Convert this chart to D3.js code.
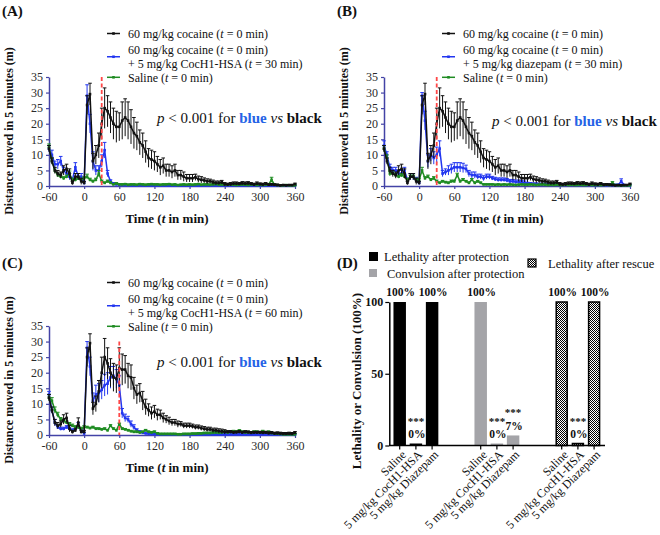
<!DOCTYPE html>
<html lang="en">
<head>
<meta charset="UTF-8">
<title>Cocaine locomotor activity and lethality</title>
<script src="https://d3js.org/d3.v7.min.js"></script>
<style>
  body { margin: 0; background: #fff; }
  svg { display: block; font-family: "Liberation Serif", "Times New Roman", serif; }
  text { white-space: pre; }
</style>
</head>
<body>
<svg id="chart" width="660" height="535"></svg>
<script>
// Time bins (min), 5 min each
const times = [-60,-55,-50,-45,-40,-35,-30,-25,-20,-15,-10,-5,0,
  5,10,15,20,25,30,35,40,45,50,55,60,
  65,70,75,80,85,90,95,100,105,110,115,120,
  125,130,135,140,145,150,155,160,165,170,175,180,
  185,190,195,200,205,210,215,220,225,230,235,240,
  245,250,255,260,265,270,275,280,285,290,295,300,
  305,310,315,320,325,330,335,340,345,350,355,360];
const xTicks = [-60, 0, 60, 120, 180, 240, 300, 360];
const yTicks = [0, 5, 10, 15, 20, 25, 30, 35];

// 60 mg/kg cocaine alone (panels A and B)
const cocaineAB = [12,8,5,4,3.5,5,5.5,4,1,3,3,1.5,1,
  26,29.5,8,10,13,20,25,24,22,20,19,19,
  21,22,21,19,17,16,14,13,11,9,8.5,8,
  7,6,6.5,5,5,4.5,5,3.5,3.5,3,2.5,2.5,
  2.5,2.8,2.2,2,1.8,1.5,1.5,1.2,1,1,1.2,0.6,
  0.5,0.6,0.8,0.8,0.7,0.9,0.8,0.9,0.7,0.5,0.8,0.6,
  0.5,0.7,0.4,0.5,0.4,0.3,0.2,0.3,0.2,0.3,0.3,0.6];
const cocaineABSem = [1,1,1,1,1,1.5,1.5,1.5,0.5,1,1,1,0.5,
  3,3.5,2.5,3,4,5,6.5,5,5,5,5,4.5,
  6,6,6,5.5,5,4.5,4,4,3.5,3,3,3,
  2.5,2.5,2.5,2,2,2,2,1.5,1.5,1.5,1.2,1.2,
  1.2,1,1,1,0.8,0.8,0.7,0.7,0.6,0.6,0.6,0.5,
  0.4,0.5,0.5,0.5,0.4,0.5,0.5,0.5,0.4,0.4,0.5,0.4,
  0.4,0.4,0.3,0.3,0.3,0.3,0.2,0.2,0.2,0.2,0.2,0.3];

// cocaine + CocH1-HSA at t = 30 min (panel A)
const cochA = [12,10,7,7,8,5,4,3,2,6,3,3,1,
  29,20,8,5,5,8,11.5,4,1.5,0.8,0.5,0.4,
  0.3,0.3,0.3,0.2,0.2,0.2,0.3,0.2,0.2,0.2,0.2,0.2,
  0.2,0.2,0.2,0.2,0.2,0.2,0.2,0.2,0.2,0.2,0.2,0.2,
  0.2,0.2,0.2,0.2,0.2,0.2,0.2,0.2,0.2,0.2,0.2,0.2,
  0.2,0.2,0.2,0.2,0.2,0.2,0.2,0.2,0.2,0.2,0.2,0.2,
  0.2,0.2,0.2,0.2,0.2,0.2,0.2,0.2,0.2,0.2,0.2,0.2];
const cochASem = [1,1.5,1,1.5,1.5,1,1,1,0.5,1.5,1,1,0.5,
  3.5,3,3,1.5,1.5,2,2.5,1,0.5,0.3,0.2,0.2,
  0.1,0.1,0.1,0.1,0.1,0.1,0.1,0.1,0.1,0.1,0.1,0.1,
  0.1,0.1,0.1,0.1,0.1,0.1,0.1,0.1,0.1,0.1,0.1,0.1,
  0.1,0.1,0.1,0.1,0.1,0.1,0.1,0.1,0.1,0.1,0.1,0.1,
  0.1,0.1,0.1,0.1,0.1,0.1,0.1,0.1,0.1,0.1,0.1,0.1,
  0.1,0.1,0.1,0.1,0.1,0.1,0.1,0.1,0.1,0.1,0.1,0.1];

// saline (panel A)
const salineA = [12.5,8,5,3.5,3,2.5,3,4,2,2,2.5,2,2.5,
  3,2,1.5,2,4,1.5,1,1.5,1,0.5,0.8,0.5,
  0.5,0.6,0.4,0.5,0.5,0.4,0.6,0.5,0.4,0.5,0.6,0.5,
  0.5,0.4,0.5,0.5,0.6,0.4,0.5,0.3,0.4,0.5,0.4,0.5,
  0.4,0.5,0.6,0.4,0.5,0.5,0.4,0.5,0.6,0.4,0.5,0.4,
  0.4,0.5,0.4,0.3,0.4,0.5,0.4,0.3,0.5,0.4,0.3,0.4,
  0.3,0.4,0.5,2,0.4,0.3,0.2,0.2,0.3,0.2,0.2,0.2];
const salineASem = [1,1,0.8,0.5,0.5,0.5,0.5,0.8,0.5,0.5,0.5,0.5,0.5,
  0.8,0.5,0.4,0.5,1,0.4,0.3,0.4,0.3,0.2,0.3,0.2,
  0.2,0.2,0.2,0.2,0.2,0.2,0.2,0.2,0.2,0.2,0.2,0.2,
  0.2,0.2,0.2,0.2,0.2,0.2,0.2,0.2,0.2,0.2,0.2,0.2,
  0.2,0.2,0.2,0.2,0.2,0.2,0.2,0.2,0.2,0.2,0.2,0.2,
  0.2,0.2,0.2,0.2,0.2,0.2,0.2,0.2,0.2,0.2,0.2,0.2,
  0.2,0.2,0.2,0.8,0.2,0.2,0.1,0.1,0.1,0.1,0.1,0.1];

// cocaine + diazepam at t = 30 min (panel B)
const diazB = [13,10,6,5,5,4,4,5,2,3,3,2,1,
  29,21,8,10,9,10,12,4,4.5,5,5.5,6,
  6,6,5.8,5.5,4,3.5,3.5,3,3,2.5,3,3,
  2.5,2.2,2,2,2,1.8,1.5,1.5,1.3,1.3,1.2,1,
  0.8,0.7,0.6,0.6,0.5,0.5,0.5,0.5,0.4,0.5,0.4,0.4,
  0.4,0.4,0.5,0.4,0.4,0.3,0.4,0.4,0.3,0.4,0.3,0.3,
  0.3,0.4,0.3,0.3,0.3,0.3,0.3,0.3,1.5,0.3,0.2,0.2];
const diazBSem = [1.5,1,1,1,1,1,1,1,0.5,1,1,0.8,0.5,
  1,3,2,2,2,2.5,2.5,1,1,1.5,1.5,1.5,
  1.5,1.5,1.5,1.2,1,1,1,0.8,0.8,0.8,0.8,0.8,
  0.6,0.6,0.6,0.6,0.6,0.6,0.6,0.6,0.6,0.6,0.6,0.6,
  0.4,0.4,0.4,0.4,0.4,0.4,0.4,0.4,0.4,0.4,0.4,0.4,
  0.3,0.3,0.3,0.3,0.3,0.3,0.3,0.3,0.3,0.3,0.3,0.3,
  0.3,0.3,0.3,0.3,0.3,0.3,0.3,0.3,0.8,0.2,0.2,0.2];

// saline (panel B)
const salineB = [12,9,4,4,3.5,3,3.5,3,2,3,3,2,2,
  5,2.5,3,2,2.5,1.5,1,1.5,1.2,1,1.5,1.5,
  3.5,1.5,2,1.5,1,2,1,1.5,1,0.5,0.5,0.5,
  0.5,0.4,0.5,0.4,0.5,0.4,0.5,0.4,0.3,0.4,0.5,0.4,
  0.4,0.5,0.4,0.3,0.4,0.5,0.4,0.3,0.4,0.3,0.4,0.3,
  0.3,0.4,0.3,0.4,0.3,0.3,0.4,0.3,0.3,0.4,0.3,0.3,
  0.3,0.3,0.3,0.4,0.3,1,0.3,0.2,0.2,0.2,0.2,0.2];
const salineBSem = [1,1,0.8,0.5,0.5,0.5,0.5,0.5,0.5,0.5,0.5,0.5,0.5,
  1,0.5,0.5,0.4,0.5,0.4,0.3,0.3,0.3,0.3,0.4,0.4,
  0.6,0.4,0.4,0.3,0.3,0.4,0.3,0.3,0.3,0.2,0.2,0.2,
  0.2,0.2,0.2,0.2,0.2,0.2,0.2,0.2,0.2,0.2,0.2,0.2,
  0.2,0.2,0.2,0.2,0.2,0.2,0.2,0.2,0.2,0.2,0.2,0.2,
  0.2,0.2,0.2,0.2,0.2,0.2,0.2,0.2,0.2,0.2,0.2,0.2,
  0.2,0.2,0.2,0.2,0.2,0.4,0.2,0.2,0.2,0.2,0.2,0.2];

// cocaine alone (panel C)
const cocaineC = [12,8,4,3,3.5,5,5.5,2,1,1.5,4,1,1,
  25,29.5,8.5,10,14,20,25,23,20,18.5,18,21.5,
  21,21,19,18.5,15,13,13.5,11,9,8,7,7.5,
  6.5,6.5,5.5,5,4.5,4,4,3.5,3.5,3,3,3,
  2.8,2.5,2.5,2.2,2,1.8,1.8,1.5,1.5,1.3,1.2,1,
  1,1,0.8,0.9,1,0.8,1,0.9,0.7,0.8,0.8,0.8,
  0.7,0.8,0.6,0.7,0.5,0.6,0.5,0.4,0.4,0.5,0.4,0.7];
const cocaineCSem = [1,1,1,1,1,1.5,1.5,1,0.5,0.5,1.5,0.5,0.5,
  3,3,2,2.5,3.5,5,6,5,4.5,4.5,4.5,6.5,
  5,4.5,4,4,3.5,3,3,3,2.5,2,2,2,
  1.8,1.5,1.5,1.2,1.2,1,1,1,0.8,0.8,0.8,0.8,
  0.7,0.7,0.7,0.7,0.7,0.7,0.7,0.7,0.7,0.7,0.7,0.7,
  0.4,0.4,0.4,0.4,0.4,0.4,0.4,0.4,0.4,0.4,0.4,0.4,
  0.4,0.4,0.4,0.4,0.4,0.4,0.4,0.4,0.4,0.4,0.4,0.4];

// cocaine + CocH1-HSA at t = 60 min (panel C)
const cochC = [13,8,4,2.5,2,2,2.5,2,1.5,2,3,1.5,0.5,
  28,22,11,13,13.5,14.5,16,16.5,18.5,19,18,16,
  7,5.5,5,3.5,2.5,1.5,1,0.7,0.5,0.4,0.3,0.3,
  0.2,0.2,0.2,0.2,0.2,0.2,0.2,0.2,0.2,0.2,0.2,0.2,
  0.2,0.2,0.2,0.2,0.2,0.2,0.2,0.2,0.2,0.2,0.2,0.2,
  0.2,0.2,0.2,0.2,0.2,0.2,0.2,0.2,0.2,0.2,0.2,0.2,
  0.2,0.2,0.2,0.2,0.2,0.2,0.2,0.2,0.2,0.2,0.2,0.2];
const cochCSem = [1,1,1,0.5,0.5,0.5,0.5,0.5,0.5,0.5,1,0.5,0.3,
  2,3,2.5,3,3,3,3.5,3.5,3.5,3,3,3,
  1.5,1.2,1,1,0.8,0.5,0.4,0.3,0.2,0.2,0.1,0.1,
  0.1,0.1,0.1,0.1,0.1,0.1,0.1,0.1,0.1,0.1,0.1,0.1,
  0.1,0.1,0.1,0.1,0.1,0.1,0.1,0.1,0.1,0.1,0.1,0.1,
  0.1,0.1,0.1,0.1,0.1,0.1,0.1,0.1,0.1,0.1,0.1,0.1,
  0.1,0.1,0.1,0.1,0.1,0.1,0.1,0.1,0.1,0.1,0.1,0.1];

// saline (panel C)
const salineC = [12,11,8,6.5,5,4.5,4,3.5,3,2.5,2.5,2,2.5,
  2.5,2.2,2.5,2,2,1.8,2,1.5,3,2,1.5,3.5,
  2,1.8,1.5,1.2,1,1,0.8,1,1.5,1,0.8,1,
  0.5,0.3,0.3,0.3,0.3,0.3,0.3,0.2,0.2,0.3,0.3,0.3,
  0.4,0.4,0.5,0.5,0.6,0.6,0.6,0.7,0.8,0.7,0.8,1,
  0.8,1,1.2,1,1.4,1,0.8,0.9,0.8,1,1,0.8,
  1.2,0.8,1,0.6,0.5,0.4,0.3,0.2,0.2,0.2,0.2,0.2];
const salineCSem = [1,1,1,0.8,0.6,0.5,0.5,0.5,0.5,0.5,0.5,0.5,0.5,
  0.3,0.3,0.3,0.3,0.3,0.3,0.3,0.3,0.3,0.3,0.3,0.3,
  0.3,0.3,0.3,0.3,0.3,0.3,0.3,0.3,0.3,0.3,0.3,0.3,
  0.3,0.3,0.3,0.3,0.3,0.3,0.3,0.3,0.3,0.3,0.3,0.3,
  0.3,0.3,0.3,0.3,0.3,0.3,0.3,0.3,0.3,0.3,0.3,0.3,
  0.3,0.3,0.3,0.3,0.3,0.3,0.3,0.3,0.3,0.3,0.3,0.3,
  0.3,0.3,0.3,0.3,0.3,0.3,0.3,0.3,0.3,0.3,0.3,0.3];

// legend texts
const legendA = [["60 mg/kg cocaine (t = 0 min)"],
  ["60 mg/kg cocaine (t = 0 min)", "+ 5 mg/kg CocH1-HSA (t = 30 min)"],
  ["Saline (t = 0 min)"]];
const legendB = [["60 mg/kg cocaine (t = 0 min)"],
  ["60 mg/kg cocaine (t = 0 min)", "+ 5 mg/kg diazepam (t = 30 min)"],
  ["Saline (t = 0 min)"]];
const legendC = [["60 mg/kg cocaine (t = 0 min)"],
  ["60 mg/kg cocaine (t = 0 min)", "+ 5 mg/kg CocH1-HSA (t = 60 min)"],
  ["Saline (t = 0 min)"]];

// panel D
const dGroups = ["Lethality after protection", "Convulsion after protection", "Lethality after rescue"];
const dTreatments = ["Saline", "5 mg/kg CocH1-HSA", "5 mg/kg Diazepam"];
const dValues = [[100, 0, 100], [100, 0, 7], [100, 0, 100]];
const dStars = [["", "***", ""], ["", "***", "***"], ["", "***", ""]];
const dYTicks = [0, 50, 100];

// colours
const cBlack = "#111", cBlue = "#2236f0", cGreen = "#1f8c22", axisColor = "#4343a6";
const serif = "'Liberation Serif', 'Times New Roman', serif";

const svg = d3.select("#chart");
const defs = svg.append("defs");
const pat = defs.append("pattern").attr("id", "checker")
  .attr("width", 2).attr("height", 2).attr("patternUnits", "userSpaceOnUse");
pat.append("rect").attr("width", 2).attr("height", 2).attr("fill", "#fff");
pat.append("rect").attr("width", 1).attr("height", 1).attr("fill", "#000");
pat.append("rect").attr("x", 1).attr("y", 1).attr("width", 1).attr("height", 1).attr("fill", "#000");

// italic "t" inside labels
function richText(sel, str) {
  str.split(/(\bt\b)/).forEach(part => {
    if (!part) return;
    const ts = sel.append("tspan").text(part);
    if (part === "t") ts.attr("font-style", "italic");
  });
}

function styleAxis(a, color, size, bold, textColor) {
  a.attr("font-family", serif).attr("font-size", size);
  a.select(".domain").attr("stroke", color).attr("stroke-width", 1.5);
  a.selectAll(".tick line").attr("stroke", color).attr("stroke-width", 1.2);
  a.selectAll(".tick text").attr("fill", textColor).attr("font-weight", bold ? "bold" : null);
}

// one time-course panel; legendSeries in legend order, drawSeries in paint order
function drawLinePanel(p, legendSeries, drawSeries) {
  const g = svg.append("g");
  const x = d3.scaleLinear().domain([-60, 360]).range([p.left, p.left + 246]);
  const y = d3.scaleLinear().domain([0, 35]).range([p.bottom, p.bottom - 109]);

  g.append("text").attr("x", p.left - 47).attr("y", p.letterY)
    .attr("font-size", 15).attr("font-weight", "bold").attr("fill", "#111").text(p.letter);

  // legend
  const rowOff = [0, 16.5, 30, 43.8];
  let row = 0;
  p.legend.forEach((lines, k) => {
    const color = legendSeries[k].color;
    const first = p.legendTop + rowOff[row];
    const last = p.legendTop + rowOff[row + lines.length - 1];
    const cy = (first + last) / 2;
    g.append("line").attr("x1", p.left + 58).attr("x2", p.left + 71)
      .attr("y1", cy).attr("y2", cy).attr("stroke", color).attr("stroke-width", 1.5);
    g.append("rect").attr("x", p.left + 63.2).attr("y", cy - 1.3)
      .attr("width", 2.6).attr("height", 2.6).attr("fill", color);
    lines.forEach((ln, j) => {
      const t = g.append("text").attr("x", p.left + 79)
        .attr("y", p.legendTop + rowOff[row + j] + 4.2).attr("font-size", 12).attr("fill", "#111");
      richText(t, ln);
    });
    row += lines.length;
  });

  // significance note
  const pt = g.append("text").attr("x", p.left + 108).attr("y", p.pY)
    .attr("font-size", 15).attr("fill", "#111");
  pt.append("tspan").attr("font-style", "italic").text("p");
  pt.append("tspan").text(" < 0.001 for ");
  pt.append("tspan").attr("font-weight", "bold").attr("fill", "#2563e6").text("blue");
  pt.append("tspan").text(" ");
  pt.append("tspan").attr("font-style", "italic").text("vs");
  pt.append("tspan").text(" ");
  pt.append("tspan").attr("font-weight", "bold").text("black");

  // axes
  const xa = g.append("g").attr("transform", `translate(0,${p.bottom})`)
    .call(d3.axisBottom(x).tickValues(xTicks).tickFormat(d => String(d))
      .tickSize(3).tickPadding(3).tickSizeOuter(0));
  styleAxis(xa, axisColor, 12, false, "#2a2a2a");
  const ya = g.append("g").attr("transform", `translate(${p.left},0)`)
    .call(d3.axisLeft(y).tickValues(yTicks).tickSize(3).tickPadding(3).tickSizeOuter(0));
  styleAxis(ya, axisColor, 12, false, "#2a2a2a");

  const xt = g.append("text").attr("x", p.left + 118).attr("y", p.bottom + 36.5)
    .attr("text-anchor", "middle").attr("font-size", 13).attr("font-weight", "bold").attr("fill", "#111");
  richText(xt, "Time (t in min)");
  g.append("text").attr("transform", `translate(${p.left - 36.5},${p.bottom - 55}) rotate(-90)`)
    .attr("text-anchor", "middle").attr("font-size", 12).attr("font-weight", "bold").attr("fill", "#111")
    .text("Distance moved in 5 minutes (m)");

  // data: error bars, line, markers
  const line = d3.line().x(d => x(d.t)).y(d => y(d.m));
  drawSeries.forEach(s => {
    const pts = times.map((t, i) => ({ t, m: s.mean[i], e: s.sem[i] }));
    const sg = g.append("g");
    const eg = sg.append("g").attr("stroke", s.color).attr("stroke-width", 1);
    eg.selectAll(".eb").data(pts).join("line").attr("class", "eb")
      .attr("x1", d => x(d.t)).attr("x2", d => x(d.t))
      .attr("y1", d => y(Math.max(0, d.m - d.e))).attr("y2", d => y(d.m + d.e));
    eg.selectAll(".ct").data(pts).join("line").attr("class", "ct")
      .attr("x1", d => x(d.t) - 1.8).attr("x2", d => x(d.t) + 1.8)
      .attr("y1", d => y(d.m + d.e)).attr("y2", d => y(d.m + d.e));
    sg.append("path").datum(pts).attr("fill", "none").attr("stroke", s.color)
      .attr("stroke-width", 1.5).attr("d", line);
    sg.selectAll(".mk").data(pts).join("rect").attr("class", "mk")
      .attr("x", d => x(d.t) - 1.3).attr("y", d => y(d.m) - 1.3)
      .attr("width", 2.6).attr("height", 2.6).attr("fill", s.color);
  });

  // time of treatment
  g.append("line").attr("x1", x(p.vline)).attr("x2", x(p.vline))
    .attr("y1", y(p.vlineTop)).attr("y2", y(0))
    .attr("stroke", "#ff4747").attr("stroke-width", 1.8).attr("stroke-dasharray", "4,2.5");
}

function panel(p, blackS, blueS, greenS) {
  drawLinePanel(p, [blackS, blueS, greenS], [blueS, greenS, blackS]);
}

panel({ letter: "(A)", left: 49, bottom: 186, letterY: 16, legendTop: 33.5, pY: 123,
        legend: legendA, vline: 30, vlineTop: 35 },
  { mean: cocaineAB, sem: cocaineABSem, color: cBlack },
  { mean: cochA, sem: cochASem, color: cBlue },
  { mean: salineA, sem: salineASem, color: cGreen });

panel({ letter: "(B)", left: 384, bottom: 186, letterY: 16, legendTop: 33.5, pY: 126,
        legend: legendB, vline: 30, vlineTop: 35 },
  { mean: cocaineAB, sem: cocaineABSem, color: cBlack },
  { mean: diazB, sem: diazBSem, color: cBlue },
  { mean: salineB, sem: salineBSem, color: cGreen });

panel({ letter: "(C)", left: 49, bottom: 435, letterY: 268, legendTop: 282.5, pY: 367,
        legend: legendC, vline: 60, vlineTop: 30 },
  { mean: cocaineC, sem: cocaineCSem, color: cBlack },
  { mean: cochC, sem: cochCSem, color: cBlue },
  { mean: salineC, sem: salineCSem, color: cGreen });

// ---- panel D: bars ----
(function drawBars() {
  const g = svg.append("g");
  const base = 445.5, axisX = 389.3;
  const y = d3.scaleLinear().domain([0, 100]).range([base, 302]);
  const xg = d3.scaleBand().domain(dGroups).range([391.6, 602.2]).paddingInner(0.4).paddingOuter(0);
  const xi = d3.scaleBand().domain(dTreatments).range([0, xg.bandwidth()])
    .paddingInner(0.23).paddingOuter(0.115);
  const fills = ["#000", "#a4a4a8", "url(#checker)"];
  const strokes = ["none", "none", "#000"];

  g.append("text").attr("x", 337).attr("y", 268)
    .attr("font-size", 15).attr("font-weight", "bold").attr("fill", "#111").text("(D)");

  // legend
  const leg = [
    { sx: 369, sy: 252, sw: 9, tx: 384, ty: 260.5 },
    { sx: 369, sy: 269, sw: 8, tx: 387, ty: 277.5 },
    { sx: 528, sy: 259, sw: 8, tx: 548, ty: 267.5 }
  ];
  dGroups.forEach((name, gi) => {
    const l = leg[gi];
    g.append("rect").attr("x", l.sx).attr("y", l.sy).attr("width", l.sw).attr("height", l.sw)
      .attr("fill", fills[gi]).attr("stroke", strokes[gi]).attr("stroke-width", 1.2);
    g.append("text").attr("x", l.tx).attr("y", l.ty).attr("font-size", 12.5)
      .attr("fill", "#111").text(name);
  });

  const bars = dGroups.flatMap((gname, gi) => dTreatments.map((tr, ti) => ({
    gi, gname, tr, v: dValues[gi][ti], star: dStars[gi][ti]
  })));
  const cx = d => xg(d.gname) + xi(d.tr) + xi.bandwidth() / 2;
  const top = d => Math.min(y(d.v), base - 2);

  g.selectAll(".bar").data(bars).join("rect").attr("class", "bar")
    .attr("x", d => xg(d.gname) + xi(d.tr) + (d.gi === 2 ? 0.75 : 0))
    .attr("width", d => xi.bandwidth() - (d.gi === 2 ? 1.5 : 0))
    .attr("y", d => top(d))
    .attr("height", d => base - top(d))
    .attr("fill", d => fills[d.gi])
    .attr("stroke", d => strokes[d.gi]).attr("stroke-width", 1.5);

  g.selectAll(".pct").data(bars).join("text").attr("class", "pct")
    .attr("x", d => cx(d) + 1).attr("y", d => top(d) - 5.6)
    .attr("text-anchor", "middle").attr("font-size", 11.5).attr("font-weight", "bold")
    .attr("fill", "#111").text(d => d.v + "%");

  g.selectAll(".star").data(bars.filter(d => d.star)).join("text").attr("class", "star")
    .attr("x", cx).attr("y", d => top(d) - 19)
    .attr("text-anchor", "middle").attr("font-size", 11).attr("font-weight", "bold")
    .attr("fill", "#111").text(d => d.star);

  // axes
  g.append("line").attr("x1", axisX).attr("x2", 605).attr("y1", base).attr("y2", base)
    .attr("stroke", "#000").attr("stroke-width", 1.5);
  g.selectAll(".xt").data(bars).join("line").attr("class", "xt")
    .attr("x1", cx).attr("x2", cx).attr("y1", base).attr("y2", base + 4)
    .attr("stroke", "#000").attr("stroke-width", 1.2);
  g.selectAll(".xl").data(bars).join("text").attr("class", "xl")
    .attr("transform", d => `translate(${cx(d) + 4},${base + 7}) rotate(-45)`)
    .attr("text-anchor", "end").attr("dy", "0.35em").attr("font-size", 12)
    .attr("fill", "#111").text(d => d.tr);

  const ya = g.append("g").attr("transform", `translate(${axisX},0)`)
    .call(d3.axisLeft(y).tickValues(dYTicks).tickSize(4).tickPadding(2).tickSizeOuter(0));
  styleAxis(ya, "#000", 12, true, "#111");

  g.append("text").attr("transform", "translate(361,381) rotate(-90)")
    .attr("text-anchor", "middle").attr("font-size", 13).attr("font-weight", "bold").attr("fill", "#111")
    .text("Lethality or Convulsion (100%)");
})();
</script>
</body>
</html>
